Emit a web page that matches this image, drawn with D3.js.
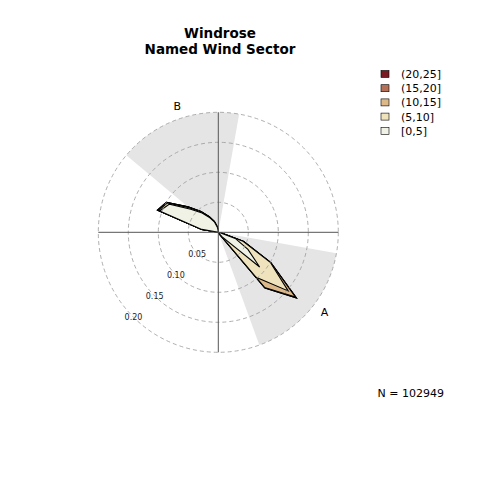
<!DOCTYPE html>
<html>
<head>
<meta charset="utf-8">
<script src="https://cdn.jsdelivr.net/npm/d3@7/dist/d3.min.js"></script>
<style>
  html, body { margin: 0; padding: 0; background: #fff; }
  svg { display: block; font-family: "DejaVu Sans", sans-serif; }
</style>
</head>
<body>
<svg id="chart" width="480" height="480"></svg>
<script>
// ---- data ----
const titleLines = ["Windrose", "Named Wind Sector"];
const bands = ["[0,5]", "(5,10]", "(10,15]", "(15,20]", "(20,25]"];
const bandColors = ["#eff2e5", "#eee3bc", "#ddb98a", "#b57157", "#7a1a22"];
const directions = d3.range(0, 360, 10);
// proportion per direction (0..350 by 10) for each speed band (non-cumulative)
const freq0_5 = [0.002,0,0,0,0,0,0,0,0,0, 0.003,0.030,0.057,0.090,0.010,0.002,0,0, 0,0,0,0,0,0,0,0,0, 0,0.028,0.104,0.094,0.060,0.042,0.028,0.018,0.008];
const freq5_10 = [0,0,0,0,0,0,0,0,0,0, 0,0.014,0.043,0.062,0.088,0,0,0, 0,0,0,0,0,0,0,0,0, 0,0,0.002,0.004,0.004,0.002,0.001,0.001,0.001];
const freq10_15 = [0,0,0,0,0,0,0,0,0,0, 0,0.001,0.001,0.016,0.022,0,0,0, 0,0,0,0,0,0,0,0,0, 0,0,0.001,0.002,0.002,0.001,0.001,0,0];
const freq15_20 = [0,0,0,0,0,0,0,0,0,0, 0,0,0,0.002,0.001,0,0,0, 0,0,0,0,0,0,0,0,0, 0,0,0.001,0,0,0,0,0,0];
const freq20_25 = [0,0,0,0,0,0,0,0,0,0, 0,0,0,0,0,0,0,0, 0,0,0,0,0,0,0,0,0, 0,0,0,0,0,0,0,0,0];
const bandFreqs = [freq0_5, freq5_10, freq10_15, freq15_20, freq20_25];
const gridTicks = [0.05, 0.10, 0.15, 0.20];
const sectorNames = ["A", "B"];
const sectorStart = [100, 310];
const sectorEnd = [160, 370];
const sectorLabelAngle = [127, 342];
const nLabel = "N = 102949";

// ---- drawing ----
const svg = d3.select("#chart");
const cx = 218.3, cy = 232.3;
const r = d3.scaleLinear().domain([0, 0.20]).range([0, 120]);
const rad = d => d * Math.PI / 180;

// title
svg.selectAll("text.title").data(titleLines).join("text")
  .attr("class", "title")
  .attr("x", 220).attr("y", (d, i) => 38 + i * 16)
  .attr("text-anchor", "middle")
  .attr("font-size", 13.5).attr("font-weight", "bold")
  .text(d => d);

const g = svg.append("g").attr("transform", `translate(${cx},${cy})`);

// named sectors
const arc = d3.arc().innerRadius(0).outerRadius(r(0.20));
g.selectAll("path.sector").data(sectorNames).join("path")
  .attr("class", "sector")
  .attr("d", (d, i) => arc({startAngle: rad(sectorStart[i]), endAngle: rad(sectorEnd[i])}))
  .attr("fill", "#e5e5e5");

// cumulative stacks
const cum = [];
bands.forEach((b, k) => {
  cum.push(directions.map((dir, j) => {
    let s = 0;
    for (let m = 0; m <= k; m++) s += bandFreqs[m][j];
    return s;
  }));
});

const line = d3.lineRadial()
  .angle((d, j) => rad(directions[j]))
  .radius(d => r(d))
  .curve(d3.curveLinearClosed);

for (let k = bands.length - 1; k >= 0; k--) {
  g.append("path")
    .attr("d", line(cum[k]))
    .attr("fill", bandColors[k])
    .attr("stroke", "#000")
    .attr("stroke-width", 1.1)
    .attr("stroke-linejoin", "miter");
}

// grid labels
g.selectAll("text.tick").data(gridTicks).join("text")
  .attr("class", "tick")
  .attr("x", d => r(d) * Math.sin(rad(225)))
  .attr("y", d => -r(d) * Math.cos(rad(225)) + 3)
  .attr("text-anchor", "middle")
  .attr("font-size", 8)
  .attr("fill", "#222")
  .text(d => d.toFixed(2));

// grid circles
g.selectAll("circle.grid").data(gridTicks).join("circle")
  .attr("class", "grid")
  .attr("r", d => r(d))
  .attr("fill", "none")
  .attr("stroke", "#9a9a9a")
  .attr("stroke-width", 0.8)
  .attr("stroke-dasharray", "4,3");

// axes
const R = r(0.20);
g.append("line").attr("x1", -R).attr("x2", R).attr("y1", 0).attr("y2", 0)
  .attr("stroke", "#555").attr("stroke-width", 1);
g.append("line").attr("x1", 0).attr("x2", 0).attr("y1", -R).attr("y2", R)
  .attr("stroke", "#555").attr("stroke-width", 1);

// sector labels
g.selectAll("text.sname").data(sectorNames).join("text")
  .attr("class", "sname")
  .attr("x", (d, i) => 133 * Math.sin(rad(sectorLabelAngle[i])))
  .attr("y", (d, i) => -133 * Math.cos(rad(sectorLabelAngle[i])) + 4)
  .attr("text-anchor", "middle")
  .attr("font-size", 11)
  .text(d => d);

// legend
const legendItems = bands.slice().reverse();
const legendCols = bandColors.slice().reverse();
const lg = svg.append("g");
lg.selectAll("rect").data(legendItems).join("rect")
  .attr("x", 381).attr("y", (d, i) => 70.5 + i * 14.2)
  .attr("width", 8).attr("height", 7)
  .attr("fill", (d, i) => legendCols[i])
  .attr("stroke", "#000").attr("stroke-width", 0.6);
lg.selectAll("text").data(legendItems).join("text")
  .attr("x", 401).attr("y", (d, i) => 78 + i * 14.2)
  .attr("font-size", 11)
  .text(d => d);

// N label
svg.append("text").attr("x", 444).attr("y", 397)
  .attr("text-anchor", "end").attr("font-size", 11)
  .text(nLabel);
</script>
</body>
</html>
